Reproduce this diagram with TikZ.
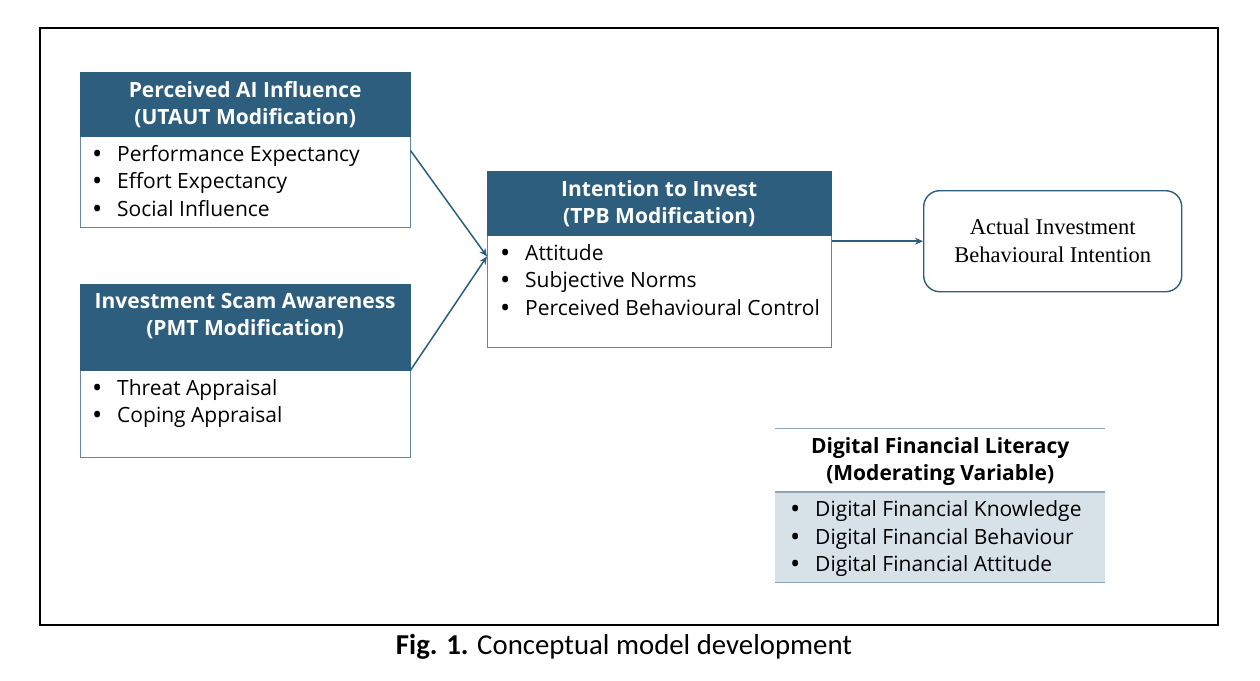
\documentclass[tikz,border=0pt]{standalone}
\usepackage{fontspec}
\usepackage{graphicx}
\setmainfont{Open Sans}
\newfontfamily\capfont{Carlito}
\newfontfamily\serifnode{Liberation Serif}
\usetikzlibrary{arrows.meta,calc}
\definecolor{hdrblue}{RGB}{46,94,126}
\definecolor{edgeblue}{RGB}{100,135,160}
\definecolor{modfill}{RGB}{214,225,232}
\definecolor{modline}{RGB}{140,165,185}
\tikzset{
  hdr/.style={fill=hdrblue, draw=hdrblue, text=white, font=\fontsize{21}{27}\selectfont\bfseries, align=center, anchor=north west, inner sep=0pt},
  bodybox/.style={draw=edgeblue, line width=0.8pt, fill=white, anchor=north west, inner sep=0pt},
  list/.style={anchor=north west, align=left, font=\fontsize{21}{27.5}\selectfont, inner sep=0pt},
  conn/.style={draw=hdrblue, line width=1.5pt, -{Stealth[length=8pt,width=7pt]}},
}
\newcommand{\itm}[1]{\makebox[25pt][l]{\raisebox{-2pt}{\scalebox{1.3}{\textbullet}}}#1}
\begin{document}
\begin{tikzpicture}[x=1pt,y=-1pt]
\path[fill=white] (0,0) rectangle (1260,680);
\useasboundingbox (0,0) rectangle (1260,680);
\node[draw=black, line width=1.8pt, minimum width=1178pt, minimum height=597pt, anchor=north west, inner sep=0pt] (frame) at (39,27) {};

% Box 1
\node[bodybox, minimum width=330pt, minimum height=155pt] (b1) at (80,72) {};
\node[hdr, minimum width=330pt, minimum height=64pt] (h1) at (80,72) {Perceived AI Influence\\(UTAUT Modification)};
\node[list] (l1) at ($(h1.south west)+(12,8.5)$) {\itm{Performance Expectancy}\\\itm{Effort Expectancy}\\\itm{Social Influence}};

% Box 2
\node[bodybox, minimum width=330pt, minimum height=173pt] (b2) at (80,284) {};
\node[hdr, minimum width=330pt, minimum height=86pt] (h2) at (80,284) {Investment Scam Awareness\\(PMT Modification)\\[-2pt]};
\node[list] (l2) at ($(h2.south west)+(12,8.5)$) {\itm{Threat Appraisal}\\\itm{Coping Appraisal}};

% Box 3
\node[bodybox, minimum width=344pt, minimum height=176pt] (b3) at (487,171) {};
\node[hdr, minimum width=344pt, minimum height=64pt] (h3) at (487,171) {Intention to Invest\\(TPB Modification)};
\node[list] (l3) at ($(h3.south west)+(13,8.5)$) {\itm{Attitude}\\\itm{Subjective Norms}\\\itm{Perceived Behavioural Control}};

% Box 4
\node[draw=hdrblue, line width=1.4pt, rounded corners=16pt, minimum width=258pt, minimum height=101pt, anchor=north west, align=center, font=\serifnode\fontsize{22.5}{28}\selectfont, inner sep=0pt] (act) at (923,190) {Actual Investment\\Behavioural Intention};

% Box 5 (moderator)
\node[fill=modfill, minimum width=330pt, minimum height=90pt, anchor=north west, inner sep=0pt] (b5) at (775,492) {};
\node[minimum width=330pt, minimum height=64pt, anchor=north west, inner sep=0pt, align=center, font=\fontsize{21}{27}\selectfont\bfseries] (h5) at (775,429) {Digital Financial Literacy\\(Moderating Variable)};
\draw[modline, line width=1pt] (775,428) -- (1105,428);
\draw[modline, line width=1.5pt] (b5.north west) -- (b5.north east);
\draw[modline, line width=1.5pt] (b5.south west) -- (b5.south east);
\node[list] (l5) at ($(b5.north west)+(15,8.5)$) {\itm{Digital Financial Knowledge}\\\itm{Digital Financial Behaviour}\\\itm{Digital Financial Attitude}};

% Connectors
\coordinate (in3) at ($(h3.south west)+(0,21)$);
\draw[conn] ($(h1.south east)+(0,14)$) -- (in3);
\draw[conn] (h2.south east) -- (in3);
\draw[conn] ($(b3.north east)!(act.west)!(b3.south east)$) -- (act.west);

% Caption
\node[font=\capfont\fontsize{28.8}{32}\selectfont] (cap) at (624,647) {\textbf{Fig. 1.} Conceptual model development};
\end{tikzpicture}
\end{document}
